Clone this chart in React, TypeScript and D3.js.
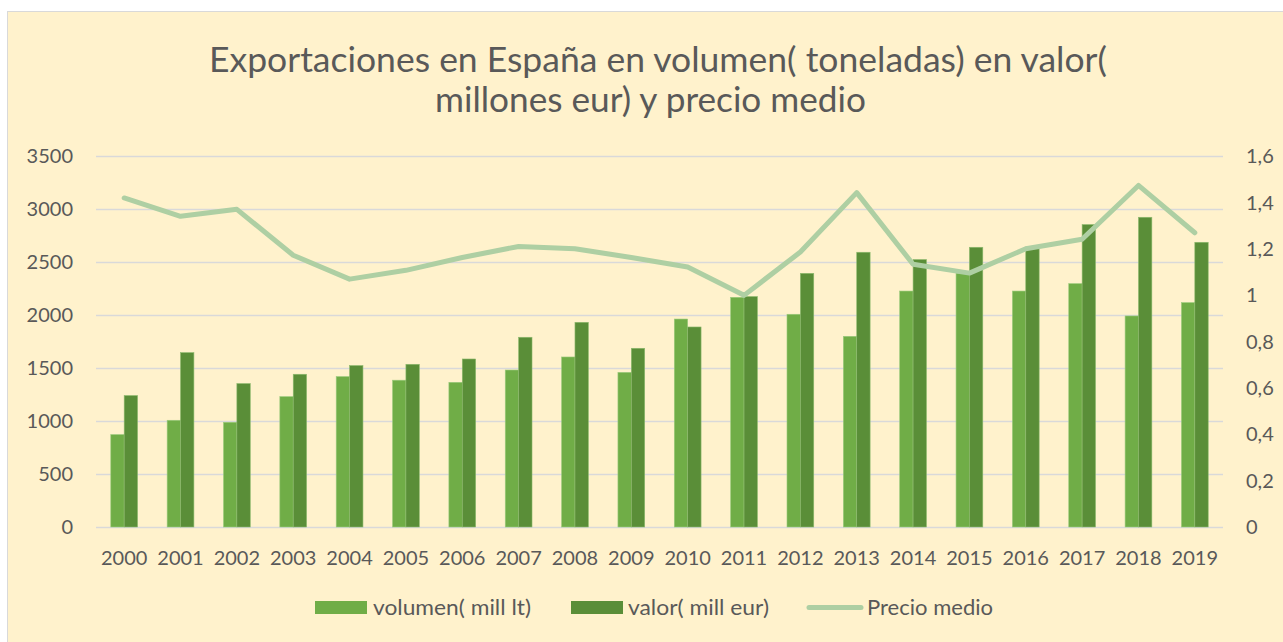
import { useEffect, useRef } from "react";
import * as d3 from "d3";

const years = [
  "2000", "2001", "2002", "2003", "2004", "2005", "2006", "2007", "2008", "2009",
  "2010", "2011", "2012", "2013", "2014", "2015", "2016", "2017", "2018", "2019",
];
const volumen = [
  872, 1007, 988, 1230, 1419, 1385, 1365, 1481, 1604, 1459,
  1962, 2167, 2007, 1799, 2226, 2395, 2226, 2296, 1991, 2117,
];
const valor = [
  1240, 1645, 1353, 1441, 1523, 1535, 1585, 1790, 1931, 1686,
  1887, 2174, 2393, 2592, 2523, 2639, 2642, 2853, 2922, 2686,
];
const precio = [
  1.419, 1.34, 1.37, 1.172, 1.069, 1.107, 1.162, 1.21, 1.2, 1.162,
  1.121, 0.999, 1.186, 1.442, 1.133, 1.095, 1.2, 1.241, 1.473, 1.269,
];
const leftTicks = [0, 500, 1000, 1500, 2000, 2500, 3000, 3500];
const rightTicks = [0, 0.2, 0.4, 0.6, 0.8, 1, 1.2, 1.4, 1.6];
const titleLines = [
  "Exportaciones en España en volumen( toneladas) en valor(",
  "millones eur) y precio medio",
];

const W = 1283;
const H = 642;
const font = "Lato, 'Open Sans', sans-serif";
const textColor = "#595959";
const lightGreen = "#70AD47";
const darkGreen = "#5A8E38";
const lineGreen = "#AECFA3";

const App = () => {
  const svgRef = useRef<SVGSVGElement>(null);

  useEffect(() => {
    if (!svgRef.current) return;
    const svg = d3.select(svgRef.current);
    svg.selectAll("*").remove();

    const plot = { left: 96, right: 1223, top: 156, bottom: 527 };

    // chart box
    svg.append("rect")
      .attr("x", 7.5).attr("y", 11.5)
      .attr("width", W).attr("height", H)
      .attr("fill", "#FFF2CC")
      .attr("stroke", "#D9D9D9");

    const titleWidths = [898, 431];
    svg.append("g")
      .selectAll("text")
      .data(titleLines)
      .join("text")
      .attr("x", (_, i) => (i === 0 ? 658 : 650.5))
      .attr("y", (_, i) => 72 + i * 40)
      .attr("text-anchor", "middle")
      .attr("font-family", font)
      .attr("font-size", 34)
      .attr("fill", textColor)
      .attr("textLength", (_, i) => titleWidths[i])
      .attr("lengthAdjust", "spacingAndGlyphs")
      .text((d) => d);

    const x = d3.scaleBand().domain(years).range([plot.left, plot.right])
      .paddingInner(0.525).paddingOuter(0.2625);
    const x1 = d3.scaleBand().domain(["vol", "val"]).range([0, x.bandwidth()]);
    const yL = d3.scaleLinear().domain([0, 3500]).range([plot.bottom, plot.top]);
    const yR = d3.scaleLinear().domain([0, 1.6]).range([plot.bottom, plot.top]);

    // gridlines
    svg.append("g")
      .selectAll("line")
      .data(leftTicks)
      .join("line")
      .attr("x1", plot.left).attr("x2", plot.right)
      .attr("y1", (d) => Math.round(yL(d)) + 0.5)
      .attr("y2", (d) => Math.round(yL(d)) + 0.5)
      .attr("stroke", "#D9D9D9")
      .attr("stroke-width", 1.5);

    // left axis labels
    svg.append("g")
      .selectAll("text")
      .data(leftTicks)
      .join("text")
      .attr("x", 73)
      .attr("y", (d) => yL(d))
      .attr("dy", "0.36em")
      .attr("text-anchor", "end")
      .attr("font-family", font)
      .attr("font-size", 20)
      .attr("fill", textColor)
      .text((d) => d);

    // right axis labels
    svg.append("g")
      .selectAll("text")
      .data(rightTicks)
      .join("text")
      .attr("x", 1246)
      .attr("y", (d) => yR(d))
      .attr("dy", "0.36em")
      .attr("text-anchor", "start")
      .attr("font-family", font)
      .attr("font-size", 20)
      .attr("fill", textColor)
      .text((d) => String(+d.toFixed(1)).replace(".", ","));

    // x labels
    svg.append("g")
      .selectAll("text")
      .data(years)
      .join("text")
      .attr("x", (d) => x(d)! + x.bandwidth() / 2)
      .attr("y", 558)
      .attr("dy", "0.36em")
      .attr("text-anchor", "middle")
      .attr("font-family", font)
      .attr("font-size", 20)
      .attr("fill", textColor)
      .text((d) => d);

    // bars
    const bars = svg.append("g");
    bars.selectAll("rect.vol")
      .data(volumen)
      .join("rect")
      .attr("class", "vol")
      .attr("x", (_, i) => x(years[i])! + x1("vol")!)
      .attr("y", (d) => yL(d))
      .attr("width", x1.bandwidth())
      .attr("height", (d) => yL(0) - yL(d))
      .attr("fill", lightGreen)
      .attr("stroke", "#9CCB7E")
      .attr("stroke-width", 0.6);
    bars.selectAll("rect.val")
      .data(valor)
      .join("rect")
      .attr("class", "val")
      .attr("x", (_, i) => x(years[i])! + x1("val")!)
      .attr("y", (d) => yL(d))
      .attr("width", x1.bandwidth())
      .attr("height", (d) => yL(0) - yL(d))
      .attr("fill", darkGreen)
      .attr("stroke", "#8DBA6E")
      .attr("stroke-width", 0.6);

    // price line
    const line = d3.line<number>()
      .x((_, i) => x(years[i])! + x.bandwidth() / 2)
      .y((d) => yR(d));
    svg.append("path")
      .datum(precio)
      .attr("d", line)
      .attr("fill", "none")
      .attr("stroke", lineGreen)
      .attr("stroke-width", 5)
      .attr("stroke-linejoin", "round")
      .attr("stroke-linecap", "round");

    // legend
    const lg = svg.append("g").attr("font-family", font).attr("font-size", 21).attr("fill", textColor);
    const legendText = (xPos: number, label: string, len: number) =>
      lg.append("text").attr("x", xPos).attr("y", 607).attr("dy", "0.36em")
        .attr("textLength", len).attr("lengthAdjust", "spacingAndGlyphs").text(label);
    lg.append("rect").attr("x", 315).attr("y", 601).attr("width", 52).attr("height", 13).attr("fill", lightGreen);
    legendText(373, "volumen( mill lt)", 158);
    lg.append("rect").attr("x", 571).attr("y", 601).attr("width", 52).attr("height", 13).attr("fill", darkGreen);
    legendText(628, "valor( mill eur)", 141);
    lg.append("line").attr("x1", 809).attr("x2", 861).attr("y1", 607.5).attr("y2", 607.5)
      .attr("stroke", lineGreen).attr("stroke-width", 5).attr("stroke-linecap", "round");
    legendText(867, "Precio medio", 126);
  }, []);

  return (
    <svg
      ref={svgRef}
      width={W}
      height={H}
      style={{ position: "absolute", left: 0, top: 0, background: "#fff" }}
    />
  );
};

export default App;
